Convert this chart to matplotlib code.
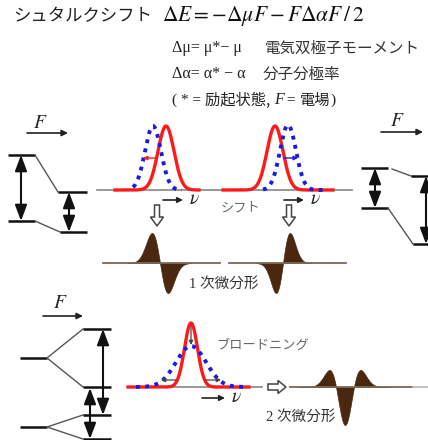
import numpy as np
import matplotlib
matplotlib.use('Agg')
import matplotlib.pyplot as plt
from matplotlib.patches import FancyArrow

plt.rcParams['mathtext.fontset'] = 'stix'
JP = ['Noto Sans CJK JP', 'DejaVu Sans']
SERIF_JP = ['Liberation Serif', 'Noto Sans CJK JP']

# ---- spectrum parameters: (center, width sigma, height) ----
tl_red = (166, 8, 64)     # top-left, no field
tl_blue = (153, 8, 64)    # top-left, with field
tr_red = (275, 8, 64)     # top-right, no field
tr_blue = (288, 8, 65)    # top-right, with field
bt_red = (191, 6.5, 64)   # bottom, no field
bt_blue = (191, 15, 41)   # bottom, broadened
d1_left = (160, 8, 30, 1)    # 1st derivative (center, sigma, amp, sign)
d1_right = (283, 7, 30, -1)
d2 = (345, 9, 38)            # 2nd derivative

# curve extents
tl_red_rng = (115, 199)
tl_blue_rng = (133, 182)
tr_red_rng = (223, 333)
tr_blue_rng = (263, 325)
bt_red_rng = (128, 249)
bt_blue_rng = (136, 247)

fig = plt.figure(figsize=(4.28, 4.4), dpi=100)
ax = fig.add_axes([0, 0, 1, 1])
ax.set_xlim(0, 428)
ax.set_ylim(440, 0)
ax.axis('off')

RED = '#ff1a1a'
BLUE = '#1a1ae6'
BROWN = '#4a2810'
BROWNLINE = '#7a6a58'
GRAY = '#888888'
DOTS = (0, (1, 1.4))


def gauss(p, rng, base):
    c, s, h = p
    x = np.linspace(rng[0], rng[1], 300)
    return x, base - h * np.exp(-(x - c) ** 2 / (2 * s ** 2))


def arrow(x0, y0, x1, y1, color='#222', lw=1.2, ms=9, style='-|>'):
    ax.annotate('', xy=(x1, y1), xytext=(x0, y0),
                arrowprops=dict(arrowstyle=style, color=color, lw=lw,
                                mutation_scale=ms, shrinkA=0, shrinkB=0))


def darrow(x, y0, y1):
    ax.annotate('', xy=(x, y1), xytext=(x, y0),
                arrowprops=dict(arrowstyle='<|-|>,head_length=0.8,head_width=0.3',
                                color='#111', lw=1.5, mutation_scale=12,
                                shrinkA=0, shrinkB=0))


def hline(x0, x1, y, color='#111', lw=1.8):
    ax.plot([x0, x1], [y, y], color=color, lw=lw, solid_capstyle='butt')


def seg(x0, y0, x1, y1, color='#555', lw=1.0):
    ax.plot([x0, x1], [y0, y1], color=color, lw=lw)


# ---------------- header text ----------------
ax.text(13, 16, 'シュタルクシフト', family=JP, fontsize=12.5, va='center', color='#222')
ax.text(162, 16, r'$\Delta E = -\Delta\mu F - F\Delta\alpha F\,/\,2$',
        fontsize=15.5, va='center', color='#111')

ax.text(172, 48, 'Δμ= μ*− μ', family=SERIF_JP, fontsize=11.5, va='center', color='#222')
ax.text(265, 48, '電気双極子モーメント', family=JP, fontsize=11.2, va='center', color='#333')
ax.text(172, 74, 'Δα= α* − α', family=SERIF_JP, fontsize=11.5, va='center', color='#222')
ax.text(263, 74, '分子分極率', family=JP, fontsize=11.2, va='center', color='#333')

renderer = fig.canvas.get_renderer()
x = 172
for s, kw in [('( * = ', dict(family=SERIF_JP, fontsize=11)),
              ('励起状態, ', dict(family=JP, fontsize=11)),
              ('F', dict(family='Liberation Serif', style='italic', fontsize=11.5)),
              (' = ', dict(family=SERIF_JP, fontsize=11)),
              ('電場', dict(family=JP, fontsize=11)),
              (')', dict(family=SERIF_JP, fontsize=11))]:
    t = ax.text(x, 100, s, va='center', ha='left', color='#222', **kw)
    x += t.get_window_extent(renderer=renderer).width

# ---------------- top-left level diagram ----------------
ax.text(40, 122, r'$F$', fontsize=14, ha='center', va='center', color='#222')
arrow(27, 133, 68, 133)
hline(8, 35, 155)
seg(35, 155, 58, 192)
hline(58, 87, 192)
hline(8, 35, 221)
seg(35, 221, 60, 232)
hline(60, 87, 232)
darrow(21, 155, 221)
darrow(69, 192, 232)

# ---------------- top-right level diagram ----------------
ax.text(397, 121, r'$F$', fontsize=14, ha='center', va='center', color='#222')
arrow(381, 132, 423, 132)
hline(361, 388, 168)
seg(392, 169, 411, 176)
hline(411, 430, 176)
hline(361, 388, 208)
seg(388, 208, 413, 244)
hline(413, 430, 244)
darrow(375, 168, 208)
darrow(426, 176, 244)

# ---------------- top spectra ----------------
BASE1 = 190
ax.plot([97, 352], [BASE1, BASE1], color=GRAY, lw=1.2)
xx, yy = gauss(tl_red, tl_red_rng, BASE1)
ax.plot(xx, yy, color=RED, lw=2.4)
xx, yy = gauss(tl_blue, tl_blue_rng, BASE1)
ax.plot(xx, yy, color=BLUE, lw=2.8, ls=DOTS)
arrow(157, 158, 143, 158, color=RED, lw=1.0, ms=6)

xx, yy = gauss(tr_red, tr_red_rng, BASE1)
ax.plot(xx, yy, color=RED, lw=2.4)
xx, yy = gauss(tr_blue, tr_blue_rng, BASE1)
ax.plot(xx, yy, color=BLUE, lw=2.8, ls=DOTS)
arrow(284, 158, 298, 158, color=BLUE, lw=1.0, ms=6)

arrow(163, 200, 183, 200, ms=8)
ax.text(189, 199, r'$\nu$', fontsize=14, va='center', color='#222')
arrow(284, 200, 304, 200, ms=8)
ax.text(310, 199, r'$\nu$', fontsize=14, va='center', color='#222')
ax.text(221, 208, 'シフト', family=JP, fontsize=9.5, va='center', color='#666')

for xc in (157, 289):
    ax.add_patch(FancyArrow(xc, 205, 0, 21, width=5, head_width=13, head_length=9,
                            length_includes_head=True, fc='white', ec='#444', lw=1.1))

# ---------------- first derivatives ----------------
BASE2 = 263
ax.plot([103, 220], [BASE2, BASE2], color=BROWNLINE, lw=1.3)
ax.plot([229, 346], [BASE2, BASE2], color=BROWNLINE, lw=1.3)
for c, s, a, sg in (d1_left, d1_right):
    xx = np.linspace(c - 4 * s, c + 4 * s, 400)
    u = (xx - c) / s
    g = -sg * u * np.exp(0.5) * np.exp(-u ** 2 / 2)
    ax.fill_between(xx, BASE2, BASE2 - a * g, color=BROWN, lw=0.5)
ax.text(189, 284, '1 次微分形', family=SERIF_JP, fontsize=10.5, va='center', color='#333')

# ---------------- bottom-left level diagram ----------------
ax.text(60, 302, r'$F$', fontsize=14, ha='center', va='center', color='#222')
arrow(43, 316, 83, 316)
hline(20, 47, 358)
seg(47, 358, 83, 329)
seg(47, 358, 83, 387)
hline(83, 111, 329)
hline(83, 111, 387)
hline(20, 47, 427)
seg(47, 427, 83, 415)
seg(47, 427, 83, 439)
hline(83, 111, 415)
hline(83, 111, 439)
darrow(103, 329, 415)
darrow(90, 388, 439)

# ---------------- bottom spectrum ----------------
BASE3 = 387
ax.plot([128, 262], [BASE3, BASE3], color=GRAY, lw=1.2)
xx, yy = gauss(bt_red, bt_red_rng, BASE3)
ax.plot(xx, yy, color=RED, lw=2.4)
xx, yy = gauss(bt_blue, bt_blue_rng, BASE3)
ax.plot(xx, yy, color=BLUE, lw=2.8, ls=DOTS)
arrow(191, 326, 191, 345, color='#444', lw=0.9, ms=6)
arrow(176, 380, 161, 380, color='#444', lw=0.9, ms=6)
arrow(206, 380, 221, 380, color='#444', lw=0.9, ms=6)
arrow(202, 398, 225, 398, ms=8)
ax.text(231, 397, r'$\nu$', fontsize=14, va='center', color='#222')
ax.text(216, 345, 'ブロードニング', family=JP, fontsize=9.5, va='center', color='#666')

ax.add_patch(FancyArrow(268, BASE3, 18, 0, width=6, head_width=13, head_length=8,
                        length_includes_head=True, fc='white', ec='#444', lw=1.1))

# ---------------- second derivative ----------------
ax.plot([290, 413], [BASE3, BASE3], color=BROWNLINE, lw=1.3)
ax.plot([413, 428], [BASE3, BASE3], color='#bbbbbb', lw=1.3)
c, s, a = d2
xx = np.linspace(c - 5 * s, c + 5 * s, 500)
u = (xx - c) / s
h = (u ** 2 - 1) * np.exp(-u ** 2 / 2)
ax.fill_between(xx, BASE3, BASE3 - a * h, color=BROWN, lw=0.5)
ax.text(266, 417, '2 次微分形', family=SERIF_JP, fontsize=10.5, va='center', color='#333')

fig.savefig('out.png', dpi=100)
